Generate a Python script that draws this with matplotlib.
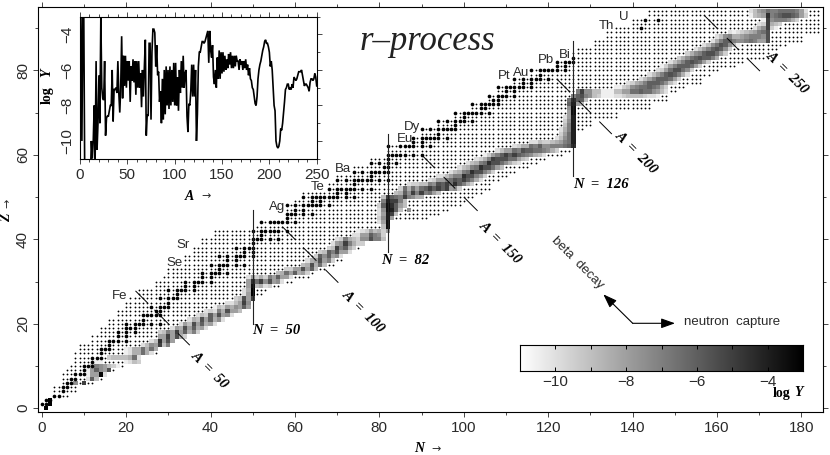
import numpy as np
import matplotlib
matplotlib.use('Agg')
import matplotlib.pyplot as plt
from matplotlib.ticker import MultipleLocator

nan = float('nan')
W, H = 830, 455

# stable nuclei: proton number and neutron numbers
stable_z = [1, 2, 3, 4, 5, 6, 7, 8, 9, 10, 11, 12, 13, 14, 15, 16, 17, 18, 19, 20, 21, 22, 23, 24, 25, 26, 27, 28, 29, 30,
            31, 32, 33, 34, 35, 36, 37, 38, 39, 40, 41, 42, 44, 45, 46, 47, 48, 49, 50, 51, 52, 53, 54, 55, 56, 57, 58, 59, 60,
            62, 63, 64, 65, 66, 67, 68, 69, 70, 71, 72, 73, 74, 75, 76, 77, 78, 79, 80, 81, 82, 83, 90, 92]
stable_n = [[0, 1], [1, 2], [3, 4], [5], [5, 6], [6, 7], [7, 8], [8, 9, 10], [10], [10, 11, 12], [12], [12, 13, 14], [14],
            [14, 15, 16], [16], [16, 17, 18, 20], [18, 20], [18, 20, 22], [20, 21, 22], [20, 22, 23, 24, 26, 28], [24],
            [24, 25, 26, 27, 28], [27, 28], [26, 28, 29, 30], [30], [28, 30, 31, 32], [32], [30, 32, 33, 34, 36], [34, 36],
            [34, 36, 37, 38, 40], [38, 40], [38, 40, 41, 42, 44], [42], [40, 42, 43, 44, 46, 48], [44, 46],
            [42, 44, 46, 47, 48, 50], [48, 50], [46, 48, 49, 50], [50], [50, 51, 52, 54, 56], [52],
            [50, 52, 53, 54, 55, 56, 58], [52, 54, 55, 56, 57, 58, 60], [58], [58, 59, 60, 62, 64], [60, 62],
            [58, 60, 62, 63, 64, 65, 66, 68], [64, 66], [62, 64, 65, 66, 67, 68, 69, 70, 72, 74], [70, 72],
            [68, 70, 71, 72, 73, 74, 76, 78], [74], [70, 72, 74, 75, 76, 77, 78, 80, 82], [78], [74, 76, 78, 79, 80, 81, 82],
            [81, 82], [78, 80, 82, 84], [82], [82, 83, 84, 85, 86, 88, 90], [82, 85, 86, 87, 88, 90, 92], [88, 90],
            [88, 90, 91, 92, 93, 94, 96], [94], [90, 92, 94, 95, 96, 97, 98], [98], [94, 96, 98, 99, 100, 102], [100],
            [98, 100, 101, 102, 103, 104, 106], [104, 105], [102, 104, 105, 106, 107, 108], [107, 108],
            [106, 108, 109, 110, 112], [110, 112], [108, 110, 111, 112, 113, 114, 116], [114, 116],
            [112, 114, 116, 117, 118, 120], [118], [116, 118, 119, 120, 121, 122, 124], [122, 124], [122, 124, 125, 126],
            [126], [142], [143, 146]]

# network extent, one row of small dots per Z
net_z = list(range(3, 95))
net_nmin = [3, 3, 3, 5, 5, 5, 6, 7, 8, 8, 8, 9, 9, 12, 12, 14, 14, 16, 16, 18, 18, 20, 20, 21, 23, 23, 27, 27, 29, 30, 30, 34,
            34, 34, 36, 36, 38, 38, 41, 41, 51, 52, 58, 58, 58, 58, 60, 62, 62, 68, 68, 70, 70, 74, 74, 78, 78, 82, 82, 82,
            88, 88, 90, 90, 94, 94, 98, 98, 102, 102, 106, 106, 108, 108, 112, 112, 116, 116, 122, 122, 126, 126, 127, 131,
            131, 134, 134, 136, 140, 140, 144, 144]
net_nmax = [6, 8, 8, 12, 14, 15, 17, 19, 23, 23, 27, 27, 29, 31, 33, 36, 39, 39, 43, 43, 45, 45, 49, 49, 52, 53, 56, 59, 63,
            64, 67, 69, 71, 71, 73, 75, 76, 80, 81, 82, 82, 82, 91, 94, 96, 99, 100, 102, 104, 106, 106, 108, 110, 112, 115,
            117, 119, 123, 125, 126, 126, 126, 126, 128, 130, 130, 136, 136, 144, 144, 148, 148, 150, 152, 156, 156, 158,
            160, 164, 166, 172, 172, 174, 176, 180, 180, 184, 184, 184, 184, 184, 184]

# r-process path: row Z, first N of the row, log Y of the cells
path_z = [0, 1, 2, 6, 7, 8, 9, 10, 11, 11, 12, 13, 14, 15, 16, 17, 18, 19, 20, 21, 22, 23, 24, 25, 26, 27, 28, 29, 30, 31, 32,
          33, 34, 35, 36, 37, 38, 39, 40, 41, 42, 43, 44, 45, 46, 47, 48, 49, 50, 51, 52, 53, 54, 55, 56, 57, 58, 59, 60, 61,
          62, 63, 64, 65, 66, 67, 68, 69, 70, 71, 72, 73, 74, 75, 76, 77, 78, 79, 80, 81, 82, 83, 84, 85, 86, 87, 88, 89, 90,
          91, 92, 93, 94]
path_n0 = [1, 2, 2, 8, 11, 11, 11, 12, 13, 20, 16, 20, 20, 24, 26, 28, 28, 31, 33, 35, 37, 39, 41, 44, 46, 48, 48, 49, 49, 49,
           56, 58, 62, 63, 65, 66, 68, 69, 70, 74, 75, 81, 80, 80, 80, 80, 80, 81, 81, 84, 85, 87, 92, 94, 97, 99, 101, 103,
           105, 108, 112, 116, 122, 123, 123, 124, 124, 124, 125, 125, 125, 125, 126, 127, 136, 139, 142, 144, 146, 147, 149,
           151, 153, 155, 157, 159, 160, 163, 169, 170, 171, 168, 168]
path_logy = [
    [-3], [-3], [-3],
    [-7.5, nan, -5],
    [-10, -6, -9],
    [-10.5, -8, -8, -3.2, -10],
    [-10.5, -8, -6, -7.5, -8, -5.5],
    [-9, -7, -7.5, -8, -9, -9.5, -10.5],
    [-10.5, -10.5],
    [-10.5, -10, -9, -9.5],
    [-9.5, -9, -9, -9, -9, -8.5, -6.5, -10],
    [-10.5, -10, -8.5, -8.5, -6.5, -8.5, -10],
    [-10.5, -10, -8.5, -8.5, -6.5, -8.5, -6.5, -8.5],
    [-10, -9, -7.5, -8, -5, -9, -7],
    [-10, -9, -4.5, -8, -5.5, -8],
    [-8, -8, -5, -8, -5.5, -8.5, -9.5],
    [-9.5, -9, -7, -8, -5, -8, -6, -8.5, -7, -9.5],
    [-10, -8, -8.5, -5.5, -8, -6, -8.5, -8, -10],
    [-10, -8, -9, -5.5, -8, -6, -8.5, -8, -10],
    [-10, -8.5, -9, -5.5, -8, -6, -8.5, -7.5, -10],
    [-10, -9, -9.5, -6, -8, -5.5, -8, -7.5, -10],
    [-10, -9.5, -10, -7, -8.5, -5.5, -8, -8, -9],
    [-10.5, -9, -9.5, -8, -8.5, -7.5, -8, -6, -8],
    [-10, -10, -9, -8, -5, -7.5],
    [-9.5, -9, -5.5, -8, -5],
    [-10, -8, -3],
    [-10, -8.5, -3],
    [-8, -3.5, -9, -8.5, -10, -9.5],
    [-8, -4.5, -6.5, -5, -7.5, -5.5, -8, -7.5, -10],
    [-10, -8, -9.5, -8.5, -9.5, -7, -8, -6, -8, -8, -10],
    [-9, -8.5, -6.5, -8, -6, -8.5, -8, -9.5],
    [-9.5, -9.5, -8, -8, -5.5, -8, -6, -9],
    [-9, -8.5, -5.5, -8.5, -6.5, -9],
    [-10, -8.5, -8, -5.5, -8, -7, -9.5],
    [-9.5, -6, -7.5, -6, -8, -7.5, -10],
    [-9.5, -9, -6, -7, -5.5, -8, -8, -10],
    [-9.5, -9, -5, -7, -6, -8.5, -9.5],
    [-10, -8, -7.5, -5, -7, -8.5, -9.5, -9.5],
    [-10, -9.5, -7, -8.5, -9, -9.5, -7.5, -7.5, -5.5, -7, -7, -9],
    [-10, -10, -8, -8, -6, -7, -7.5, -9.5],
    [-10.5, -10, -9.5, -8, -9, -8.5, -9.5, -8],
    [-9, -3.5],
    [-10, -8, -3.5],
    [-9.5, -7.5, -4, -8],
    [-10, -8, -4, -5, -9],
    [-10, -7.5, -3.5, -4, -6, -9, nan, -7.5],
    [-9.5, -6, -3.5, -4.5, -6, -8, -9],
    [-7, -4, -5, -5, -7, -9],
    [-9, -5, -6, -6.5, -7, -5, -7, -7.5, -8.5, -8.5],
    [-9, -8.5, -6, -7.5, -5, -7, -5, -7, -6.5, -8, -9],
    [-9.5, -6.5, -8.5, -6.5, -8, -6.5, -6, -5, -6, -5, -6, -5, -8, -7.5, -9.5],
    [-10, -9.5, -9.5, -9, -9, -7, -7.5, -5.5, -6, -5, -6.5, -4.5, -6, -7, -8.5, -9.5],
    [-10, -9.5, -8, -8, -7, -6.5, -5.5, -6, -5, -6, -7, -8.5, -10],
    [-10, -10, -9, -8, -7, -7, -4.5, -5.5, -5.5, -7, -8, -9.5],
    [-10, -9, -8.5, -7, -6.5, -4.5, -5.5, -5.5, -7, -8, -9.5],
    [-10, -9, -8.5, -7, -6.5, -4.5, -5.5, -5.5, -6.5, -8, -9],
    [-10, -9, -8.5, -7, -6.5, -4.5, -5.5, -5.5, -6.5, -7.5, -8.5, -9.5, -10],
    [-10, -9.5, -8.5, -7, -5, -5.5, -5.5, -5.5, -6.5, -6.5, -8, -9, -9.5],
    [-10.5, -9.5, -8, -7, -6, -5, -6, -5, -6, -6.5, -7, -7.5, -8.5, -9, -10],
    [-10, -9, -8, -8, -6.5, -7, -5.5, -6, -6, -6.5, -6.5, -7, -7.5, -8.5, -9.5],
    [-10, -9.5, -8.5, -8.5, -6.5, -7, -6, -7.5, -7.5, -7, -7, -7, -6.5, -6, -4.5],
    [-10, -10, -9, -9.5, -9.5, -9, -8.5, -8, -7, -6.5, -4],
    [-10, -9, -7.5, -6.5, -4],
    [-9.5, -8, -6.5, -4],
    [-10, -8.5, -7, -4],
    [-9, -7, -4],
    [-9.5, -7.5, -4],
    [-10, -8, -4],
    [-8, -3.5],
    [-7.5, -3.5],
    [-6, -4, -8, -9],
    [-6.5, -4.5, -6, -6, -9],
    [-7, -6, -5.5, -7, -7.5, -9, -9.5, -10.5, -10.5, -10.5, -10, -10, -9.5, -9, -9, -9, -9, -9.5, -10, -10, -10.5],
    [-7, -5, -7.5, -7.5, -9, -9, -10.5, -10.5, -10.5, -9, -9, -8, -8, -6.5, -6.5, -6, -6.5, -6.5, -7.5, -8, -9, -10],
    [-10.5, -10.5, -9.5, -9, -7.5, -7, -6.5, -6.5, -6, -6.5, -7, -8.5, -9.5],
    [-10, -9.5, -8.5, -8, -7, -6, -6, -6, -6.5, -7.5, -9, -10],
    [-10, -9, -8, -7, -6, -6, -6, -6.5, -8, -9.5],
    [-10, -9, -8, -7, -6, -5.5, -6, -7, -8.5, -10],
    [-10, -9.5, -8, -6.5, -5.5, -5.5, -6.5, -7.5, -9.5],
    [-10.5, -9.5, -8, -7, -6, -6, -6, -6.5, -8, -9.5],
    [-10, -9, -8, -7, -6, -5.5, -6, -6.5, -8, -9.5],
    [-9.5, -8.5, -7.5, -6.5, -6, -5.5, -6, -6, -7, -8.5],
    [-9.5, -8.5, -7.5, -7, -6, -5.5, -5.5, -6.5, -8, -9.5],
    [-10, -9, -8, -7, -6, -5.5, -6, -7.5, -9.5],
    [-10, -9, -7.5, -6.5, -5.5, -6, -7.5, -9, -10.5],
    [-10, -8.5, -7, -6, -6, -7, -7.5, -7.5, -7, -6.5, -7, -8, -8, -5.5],
    [-10, -9, -7.5, -7, -8.5, -8.5, -8, -7.5, -7, -7, -7, -7.5, -5.5],
    [-10, -10.5, -10, -9.5, -9, -8.5, -8, -7, -6.5, -5.5],
    [-10, -8.5, -7.5, -5, -9.5, -10.5],
    [-10, -9.5, -5, -8.5, -9, -9.5],
    [-10.5, -5, -7.5, -7, -7, -7, -7.5, -8.5, -9.5],
    [-10.5, -9, -8.5, -8, -4.5, -7, -6.5, -6, -5.5, -5.5, -6, -6.5, -8, -9.5],
    [-10, -9, -8, -7.5, -6.5, -7, -7, -6.5, -6.5, -6.5, -6.5, -7, -8, -10],
]

# constant A guide lines, as N ranges of the three pieces of each
a_values = [50, 100, 150, 200, 250]
a_n_start = [[22.3, 26.8, 32.4], [57.1, 62.0, 67.3], [90.0, 95.3, 100.3], [122.1, 127.3, 132.2], [157.1, 162.4, 167.4]]
a_n_end = [[25.1, 30.2, 35.0], [60.0, 65.0, 70.2], [93.0, 97.9, 103.2], [125.1, 130.1, 135.0], [160.1, 165.0, 170.1]]

# magic neutron numbers with the Z range of their lines
magic_n = [50, 82, 126]
magic_z_low = [20, 37, 55]
magic_z_high = [47, 65, 87]

# final abundances for inset, mass number 1 to 250
abund_a = list(range(1, 251))
abund_logy = [-3, -10, -3, -3, -12, -12, -12, -12, -12, -12, -12, -10, -11, -10, -8, -11, -5.5, -10.5, -9, -6.3,
              -9, -3, -7, -7.6, -7.7, -5.5, -9.7, -8.7, -8.6, -8.6, -8.3, -8, -8, -6, -8.9, -7.1, -7.1, -7, -7.3, -5.5,
              -7.3, -8.4, -7, -4.1, -7.6, -5.2, -6.9, -5.2, -7, -5.5, -6.6, -5.5, -7.8, -5.8, -6.6, -5.4, -6.7, -5.5, -7.4, -5.5,
              -7, -5.5, -7, -6.2, -8.1, -6, -7.5, -5.8, -4.3, -9.7, -8.5, -8.6, -4.5, -4.5, -8.8, -5, -3.7, -3.7, -3.9, -5.8,
              -4.6, -6.3, -6.1, -7.8, -7.2, -9, -6.5, -8.8, -6, -8.5, -5.8, -8, -6, -8.2, -5.8, -8, -6, -7.8, -5.6, -8,
              -5.6, -8, -6.4, -8.3, -6, -7.3, -5.5, -7, -5.2, -7, -6.2, -6, -8.6, -9.5, -7.9, -8, -7.2, -5.7, -7.5, -5.7,
              -7.5, -6, -10, -8.5, -5.8, -5, -5, -4.7, -4.4, -4.4, -4.5, -4.4, -4.2, -4, -3.8, -5.6, -3.8, -4.9, -5.3, -4.6,
              -6.4, -6.8, -6, -7, -5.3, -6.5, -4.9, -6.5, -5, -6.2, -5, -6.1, -5.2, -6, -5.4, -5.9, -5.1, -5.7, -5, -5.9,
              -5.2, -5.9, -5.2, -5.8, -5.2, -5.5, -5.5, -6, -5.4, -5.7, -5.5, -6, -5.5, -5.9, -5.4, -6, -5.7, -6.3, -5.9, -6.5,
              -6.6, -7, -7.1, -7.5, -7.9, -8, -7.5, -6.5, -6, -5.7, -5.5, -5.2, -4.9, -4.7, -4.4, -4.3, -4.5, -4.5, -4.7, -5,
              -5.8, -5.5, -6, -7, -8, -8.3, -10, -10.3, -10.4, -10.3, -10, -9.3, -9.4, -9, -8.4, -7.8, -7.1, -7, -6.8, -6.8,
              -7.1, -7, -7.1, -6.8, -7, -6.4, -6.5, -6.6, -6.5, -6.3, -6.1, -6.1, -6.1, -6, -6.3, -6.6, -6.9, -6.8, -6.8, -6.9,
              -7, -7.2, -6.7, -6.5, -6.5, -6.6, -6.5, -6.2, -6.4, -6.9]

element_names = ['Fe', 'Se', 'Sr', 'Ag', 'Te', 'Ba', 'Eu', 'Dy', 'Pt', 'Au', 'Pb', 'Bi', 'Th', 'U']
element_x = [120, 175, 183, 277, 318, 343, 405, 412, 504, 521, 546, 565, 606, 624]
element_y = [296, 263, 245, 207, 187, 169, 139, 127, 76, 73, 60, 55, 26, 17]

SANS = 'Liberation Sans'
SERIF = 'Liberation Serif'
GREY = '#2a2a2a'


def px(x, y):
    return x / W, 1 - y / H


def add_axes_px(left, top, right, bottom):
    return fig.add_axes([left / W, 1 - bottom / H, (right - left) / W, (bottom - top) / H])


def label(x, y, s, size=10, **kw):
    kw.setdefault('ha', 'center')
    kw.setdefault('va', 'center')
    kw.setdefault('family', SANS)
    kw.setdefault('color', GREY)
    fx, fy = px(x, y)
    fig.text(fx, fy, s, fontsize=size, **kw)


def italic(x, y, s, size=10.5, **kw):
    label(x, y, s, size=size, family=SERIF, style='italic', weight='bold', color='black', **kw)


def style_ticks(axis):
    for side in axis.spines.values():
        side.set_linewidth(0.8)
    axis.tick_params(which='major', length=3.4, width=0.6, colors=GREY, labelsize=11)
    axis.tick_params(which='minor', length=1.9, width=0.6, colors=GREY)
    for t in axis.get_xticklabels() + axis.get_yticklabels():
        t.set_family(SANS)


fig = plt.figure(figsize=(W / 100, H / 100), dpi=100)

# main chart
ax = add_axes_px(37.5, 7, 822.5, 412)
ax.set_xlim(-1, 185)
ax.set_ylim(-0.9, 95)

for z, nmin, nmax in zip(net_z, net_nmin, net_nmax):
    ns = np.arange(nmin, nmax + 1)
    ax.scatter(ns, np.full(len(ns), z), s=1.7, c='black', marker='o', linewidths=0, zorder=1)

grid = np.full((96, 186), np.nan)
for z, n0, vals in zip(path_z, path_n0, path_logy):
    for i, v in enumerate(vals):
        if not np.isnan(v):
            grid[z, n0 + i] = v
n_edges = np.arange(-0.5, 186)
z_edges = np.arange(-0.5, 96)
ax.pcolormesh(n_edges, z_edges, np.ma.masked_invalid(grid), cmap='gray_r', vmin=-11, vmax=-3,
              linewidth=0, zorder=2, rasterized=True)

for z, ns in zip(stable_z, stable_n):
    ax.scatter(ns, [z] * len(ns), s=7, c='black', marker='o', linewidths=0, zorder=3)

for n, z0, z1 in zip(magic_n, magic_z_low, magic_z_high):
    ax.plot([n, n], [z0, z1], color='#222222', lw=0.8, zorder=4)

for a, starts, ends in zip(a_values, a_n_start, a_n_end):
    for n0, n1 in zip(starts, ends):
        ax.plot([n0, n1], [a - n0, a - n1], color='black', lw=0.7, zorder=4)

ax.xaxis.set_major_locator(MultipleLocator(20))
ax.xaxis.set_minor_locator(MultipleLocator(10))
ax.yaxis.set_major_locator(MultipleLocator(20))
ax.yaxis.set_minor_locator(MultipleLocator(10))
ax.tick_params(which='both', direction='out', top=True, right=True)
style_ticks(ax)
ax.tick_params(axis='x', pad=3)
ax.tick_params(axis='y', pad=2)
for t in ax.get_yticklabels():
    t.set_rotation(90)
    t.set_va('center')

# inset abundances
ins = add_axes_px(80, 16.7, 316.7, 158.7)
ins.set_xlim(0, 250)
ins.set_ylim(-11, -3)
ins.plot(abund_a, abund_logy, color='black', lw=1.2, solid_joinstyle='miter')
ins.xaxis.set_major_locator(MultipleLocator(50))
ins.xaxis.set_minor_locator(MultipleLocator(10))
ins.yaxis.set_major_locator(MultipleLocator(2))
ins.yaxis.set_minor_locator(MultipleLocator(1))
ins.set_yticks([-10, -8, -6, -4])
ins.tick_params(which='both', direction='out', top=True, right=True, left=False)
style_ticks(ins)
ins.tick_params(axis='y', pad=1)
for t in ins.get_yticklabels():
    t.set_rotation(90)
    t.set_va('center')

# colour scale
cax = add_axes_px(520, 345, 803, 370.7)
cax.imshow(np.array([np.arange(-11, -2.99, 0.02)]), cmap='gray_r', vmin=-11, vmax=-3, aspect='auto',
           extent=(-11, -3, 0, 1))
cax.set_yticks([])
cax.set_xticks([-10, -8, -6, -4])
cax.set_xticklabels(['\u221210', '\u22128', '\u22126', '\u22124'])
cax.xaxis.set_minor_locator(MultipleLocator(1))
style_ticks(cax)
cax.tick_params(which='both', direction='in', top=True, length=3.2, width=0.7, color='black', pad=3)

# texts
for name, x, y in zip(element_names, element_x, element_y):
    label(x, y, name, size=9.5)

label(427, 42, 'r\u2013process', size=25, family=SERIF, style='italic', color='#222222')
label(732, 322, 'neutron  capture', size=9.5)
label(577, 263, 'beta  decay', size=9.5, rotation=-45, rotation_mode='anchor')

italic(276, 331, 'N  =  50')
italic(405, 260, 'N  =  82')
italic(601, 184, 'N  =  126')
italic(210, 370, 'A  =  50', rotation=-45, rotation_mode='anchor')
italic(363, 312, 'A  =  100', rotation=-45, rotation_mode='anchor')
italic(500, 243, 'A  =  150', rotation=-45, rotation_mode='anchor')
italic(636, 153, 'A  =  200', rotation=-45, rotation_mode='anchor')
italic(787, 73, 'A  =  250', rotation=-45, rotation_mode='anchor')

arrow_tail = '-|>,head_width=0.25,head_length=0.7'
ax.annotate('', xy=px(675, 323.3), xytext=px(632.7, 323.3), xycoords='figure fraction', textcoords='figure fraction',
            arrowprops=dict(arrowstyle=arrow_tail, color='black', lw=0.8, shrinkA=0, shrinkB=0, mutation_scale=12))
ax.annotate('', xy=px(603.3, 294.3), xytext=px(632.7, 323.3), xycoords='figure fraction', textcoords='figure fraction',
            arrowprops=dict(arrowstyle=arrow_tail, color='black', lw=0.8, shrinkA=0, shrinkB=0, mutation_scale=12))

# axis names
italic(419, 449, 'N', size=10)
label(436, 449, '\u2192', size=8, family='DejaVu Sans')
italic(7, 218, 'Z', size=10, rotation=90)
label(7, 203, '\u2192', size=8, family='DejaVu Sans', rotation=90)
italic(189, 196, 'A', size=10)
label(206, 196, '\u2192', size=8, family='DejaVu Sans')
label(47, 95, 'log', size=10, family=SERIF, weight='bold', color='black', rotation=90)
italic(47, 73, 'Y', size=10, rotation=90)
label(782, 393, 'log', size=10, family=SERIF, weight='bold', color='black')
italic(799, 393, 'Y', size=10)

fig.savefig('out.png', dpi=100)
